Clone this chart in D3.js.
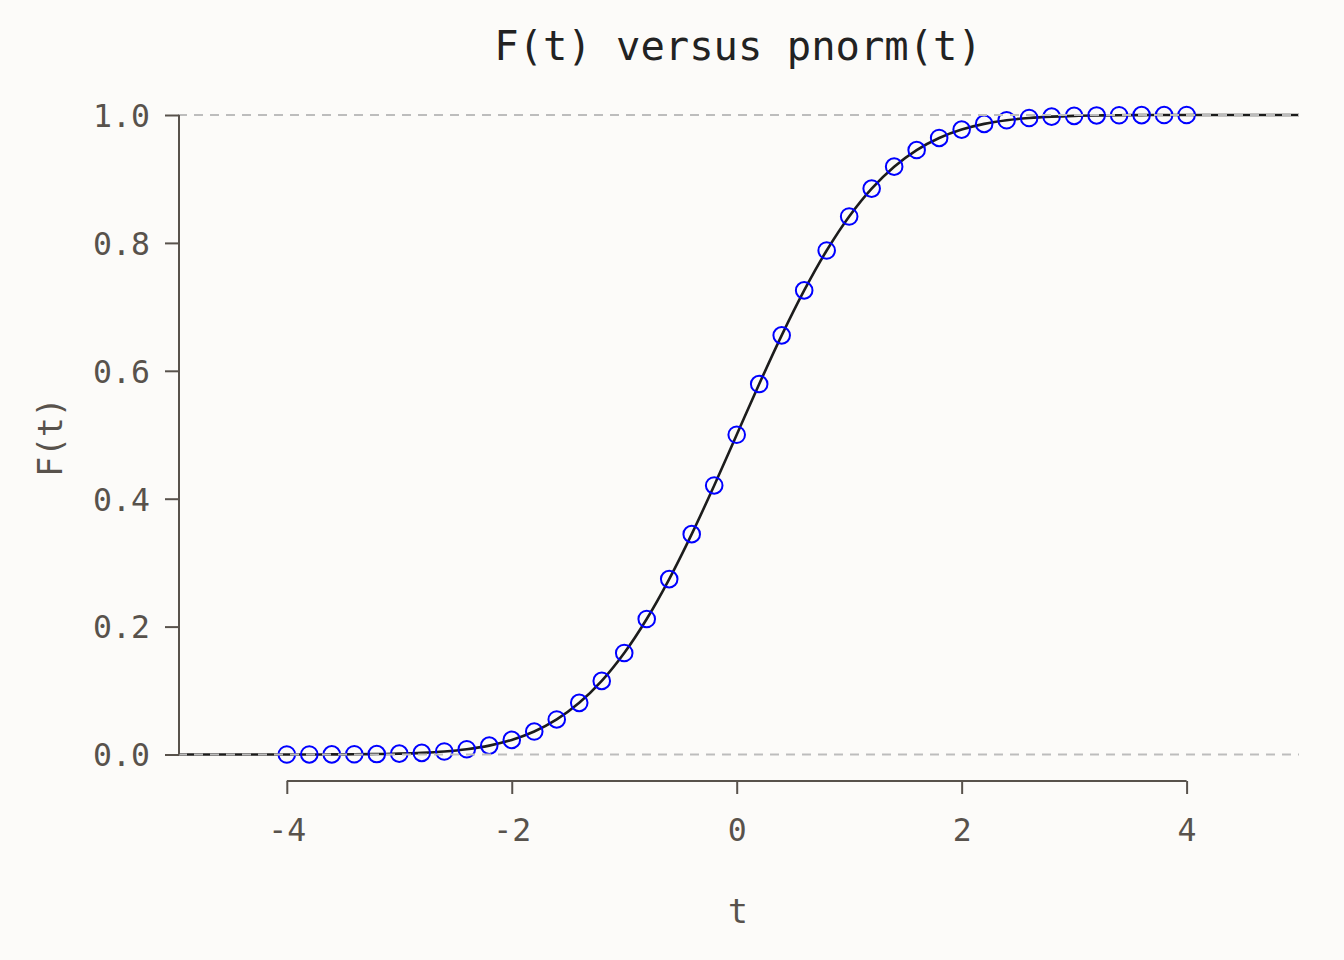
<!DOCTYPE html>
<html>
<head>
<meta charset="utf-8">
<script src="https://cdn.jsdelivr.net/npm/d3@7"></script>
<style>
  html, body { margin: 0; padding: 0; background: #fcfbf9; }
  svg { display: block; }
</style>
</head>
<body>
<svg id="chart" width="1344" height="960"></svg>
<script>
// ---- data ----
const pointT = [-4,-3.8,-3.6,-3.4,-3.2,-3,-2.8,-2.6,-2.4,-2.2,-2,-1.8,-1.6,-1.4,-1.2,-1,-0.8,-0.6,-0.4,-0.2,0,
                0.2,0.4,0.6,0.8,1,1.2,1.4,1.6,1.8,2,2.2,2.4,2.6,2.8,3,3.2,3.4,3.6,3.8,4];
const pointF = [0.0000317,0.0000723,0.000159,0.000337,0.000687,0.00135,0.00256,0.00466,0.0082,0.0139,0.0228,
                0.0359,0.0548,0.0808,0.1151,0.1587,0.2119,0.2743,0.3446,0.4207,0.5,
                0.5793,0.6554,0.7257,0.7881,0.8413,0.8849,0.9192,0.9452,0.9641,0.9772,
                0.9861,0.9918,0.9953,0.9974,0.99865,0.99931,0.99966,0.99984,0.99993,0.99997];
const curveT = [-5,-4.8,-4.6,-4.4,-4.2,-4,-3.8,-3.6,-3.4,-3.2,-3,-2.8,-2.6,-2.4,-2.2,-2,-1.8,-1.6,-1.4,-1.2,-1,
                -0.8,-0.6,-0.4,-0.2,0,0.2,0.4,0.6,0.8,1,1.2,1.4,1.6,1.8,2,2.2,2.4,2.6,2.8,3,
                3.2,3.4,3.6,3.8,4,4.2,4.4,4.6,4.8,5];
const curveF = [0.0000003,0.0000008,0.0000021,0.0000054,0.0000133,0.0000317,0.0000723,0.000159,0.000337,0.000687,0.00135,
                0.00256,0.00466,0.0082,0.0139,0.0228,0.0359,0.0548,0.0808,0.1151,0.1587,
                0.2119,0.2743,0.3446,0.4207,0.5,0.5793,0.6554,0.7257,0.7881,0.8413,
                0.8849,0.9192,0.9452,0.9641,0.9772,0.9861,0.9918,0.9953,0.9974,0.99865,
                0.99931,0.99966,0.99984,0.99993,0.99997,0.9999867,0.9999946,0.9999979,0.9999992,0.9999997];
const xTicks = [-4,-2,0,2,4];
const yTicks = [0,0.2,0.4,0.6,0.8,1.0];
const refLines = [0,1];
const titleText = "F(t) versus pnorm(t)";
const xLabel = "t";
const yLabel = "F(t)";

// ---- layout ----
const svg = d3.select("#chart");
const font = "'DejaVu Sans Mono', 'Liberation Mono', monospace";
const axisCol = "#58524c";
const left = 178, right = 1299;
const x = d3.scaleLinear().domain([-4, 4]).range([286.8, 1186.6]);
const y = d3.scaleLinear().domain([0, 1]).range([754.5, 115]);

svg.append("rect").attr("width", 1344).attr("height", 960).attr("fill", "#fcfbf9");

svg.append("defs").append("clipPath").attr("id", "plotclip")
  .append("rect").attr("x", left).attr("y", 60).attr("width", right - left).attr("height", 740);

const plot = svg.append("g").attr("clip-path", "url(#plotclip)");

// curve
const curveData = curveT.map((t, i) => [t, curveF[i]]);
plot.append("path")
  .datum(curveData)
  .attr("fill", "none")
  .attr("stroke", "#1c1c1c")
  .attr("stroke-width", 2.6)
  .attr("d", d3.line().x(d => x(d[0])).y(d => y(d[1])).curve(d3.curveCatmullRom));

// points
plot.selectAll("circle.pt")
  .data(pointT.map((t, i) => [t, pointF[i]]))
  .join("circle")
  .attr("class", "pt")
  .attr("cx", d => x(d[0]))
  .attr("cy", d => y(d[1]))
  .attr("r", 8.3)
  .attr("fill", "none")
  .attr("stroke", "#0000ff")
  .attr("stroke-width", 2);

// reference dashed lines
plot.selectAll("line.ref")
  .data(refLines)
  .join("line")
  .attr("class", "ref")
  .attr("x1", left).attr("x2", right)
  .attr("y1", d => y(d)).attr("y2", d => y(d))
  .attr("stroke", "#bdbdbd")
  .attr("stroke-width", 2)
  .attr("stroke-dasharray", "9,7");

// y axis
const yAxis = d3.axisLeft(y).tickValues(yTicks).tickFormat(d3.format(".1f")).tickSize(14).tickPadding(15);
const gy = svg.append("g").attr("transform", `translate(${left + 1},0)`).call(yAxis);
gy.select(".domain").attr("stroke", axisCol).attr("stroke-width", 2)
  .attr("d", `M0,${y(0)}V${y(1)}`);
gy.selectAll(".tick line").attr("stroke", axisCol).attr("stroke-width", 2);
gy.selectAll(".tick text").attr("fill", axisCol).attr("font-family", font).attr("font-size", 31.5)
  .attr("dy", "0.36em");

// x axis
const xAxis = d3.axisBottom(x).tickValues(xTicks).tickFormat(d => d < 0 ? "-" + Math.abs(d) : String(d)).tickSize(13).tickPadding(25);
const gx = svg.append("g").attr("transform", `translate(0,781)`).call(xAxis);
gx.select(".domain").attr("stroke", axisCol).attr("stroke-width", 2)
  .attr("d", `M${x(-4)},0H${x(4)}`);
gx.selectAll(".tick line").attr("stroke", axisCol).attr("stroke-width", 2);
gx.selectAll(".tick text").attr("fill", axisCol).attr("font-family", font).attr("font-size", 31.5);

// title
svg.append("text")
  .attr("x", 738).attr("y", 60)
  .attr("text-anchor", "middle")
  .attr("font-family", font).attr("font-size", 40.5)
  .attr("fill", "#222")
  .text(titleText);

// axis labels
svg.append("text")
  .attr("x", 738).attr("y", 923)
  .attr("text-anchor", "middle")
  .attr("font-family", font).attr("font-size", 33)
  .attr("fill", axisCol)
  .text(xLabel);

svg.append("text")
  .attr("transform", "translate(62,437) rotate(-90)")
  .attr("text-anchor", "middle")
  .attr("font-family", font).attr("font-size", 33)
  .attr("fill", axisCol)
  .text(yLabel);
</script>
</body>
</html>
